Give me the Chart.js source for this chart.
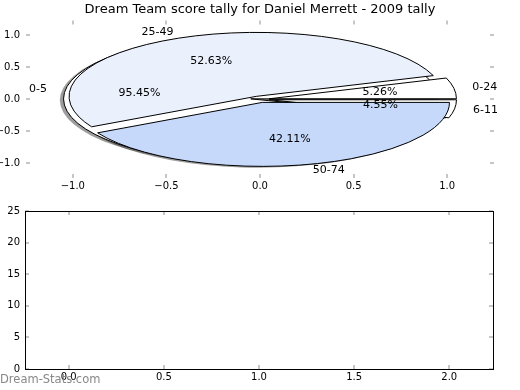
<!DOCTYPE html>
<html>
<head>
<meta charset="utf-8">
<script src="https://cdn.jsdelivr.net/npm/chart.js@4.4.0/dist/chart.umd.min.js"></script>
<style>
    body { margin: 0; background: #fff; width: 520px; height: 390px; position: relative; overflow: hidden; }
    #pieChart { position: absolute; left: 0; top: 0; }
    #emptyChart { position: absolute; left: 0; top: 200px; }
    #mark { position: absolute; left: 0; top: 372px; font: 11.5px "DejaVu Sans"; color: #888; }
</style>
</head>
<body>
<canvas id="pieChart" width="520" height="200"></canvas>
<canvas id="emptyChart" width="520" height="190"></canvas>
<div id="mark">Dream-Stats.com</div>
<script>
// ============ DATA ============

const chartTitle = "Dream Team score tally for Daniel Merrett - 2009 tally";

// first tally (drawn on top)
const bandsA = ["0-24", "25-49", "50-74"];
const pctA = [5.26, 52.63, 42.11];

// second tally (drawn underneath)
const bandsB = ["0-5", "6-11"];
const pctB = [95.45, 4.55];

const pieTicks = [-1.0, -0.5, 0.0, 0.5, 1.0];
const emptyXTicks = [0.0, 0.5, 1.0, 1.5, 2.0];
const emptyYTicks = [0, 5, 10, 15, 20, 25];

// ============ STYLE ============

const coloursA = ["#ffffff", "#eaf1fd", "#c6d9fb"];
const coloursB = ["#ffffff", "#ffffff"];
const EXPLODE = 0.05;
const FONT = "DejaVu Sans";

function fmtTick(v) {
    return v.toFixed(1).replace("-", "\u2212");
}

function wedges(values) {
    const total = values.reduce((a, b) => a + b, 0);
    let start = 0;
    return values.map(v => {
        const sweep = v / total * 2 * Math.PI;
        const mid = start + sweep / 2;
        const w = {
            from: start, to: start + sweep, mid,
            dx: EXPLODE * Math.cos(mid), dy: EXPLODE * Math.sin(mid),
            pct: v / total * 100
        };
        start += sweep;
        return w;
    });
}

// ============ PLUGINS ============

const piePlugin = {
    id: "pies",
    beforeDatasetsDraw(chart) {
        const { ctx, scales: { x, y } } = chart;
        const pies = [
            { labels: bandsB, colours: coloursB, w: wedges(pctB) },
            { labels: bandsA, colours: coloursA, w: wedges(pctA) }
        ];

        const path = (w, ox, oy) => {
            const cx = x.getPixelForValue(w.dx + ox);
            const cy = y.getPixelForValue(w.dy + oy);
            const rx = x.getPixelForValue(w.dx + ox + 1) - cx;
            const ry = cy - y.getPixelForValue(w.dy + oy + 1);
            ctx.beginPath();
            ctx.moveTo(cx, cy);
            ctx.ellipse(cx, cy, rx, ry, 0, -w.from, -w.to, true);
            ctx.closePath();
        };

        ctx.save();
        // shadows sit below every wedge
        pies.forEach(p => p.w.forEach(w => {
            path(w, -0.02, -0.02);
            ctx.fillStyle = "rgba(60,60,60,0.5)";
            ctx.fill();
        }));
        pies.forEach(p => p.w.forEach((w, i) => {
            path(w, 0, 0);
            ctx.fillStyle = p.colours[i];
            ctx.fill();
            ctx.lineWidth = 1;
            ctx.strokeStyle = "#000";
            ctx.stroke();
        }));

        ctx.font = `11px "${FONT}"`;
        ctx.fillStyle = "#000";
        ctx.textBaseline = "middle";
        pies.forEach(p => p.w.forEach((w, i) => {
            const lx = w.dx + 1.1 * Math.cos(w.mid);
            const ly = w.dy + 1.1 * Math.sin(w.mid);
            ctx.textAlign = lx > 0 ? "left" : "right";
            ctx.fillText(p.labels[i], x.getPixelForValue(lx), y.getPixelForValue(ly));
            ctx.textAlign = "center";
            ctx.fillText(w.pct.toFixed(2) + "%",
                x.getPixelForValue(w.dx + 0.6 * Math.cos(w.mid)),
                y.getPixelForValue(w.dy + 0.6 * Math.sin(w.mid)));
        }));
        ctx.restore();
    }
};

// matplotlib-style inward ticks, optional frame
function innerTicks(frame) {
    return {
        id: "innerTicks",
        afterDraw(chart) {
            const { ctx, chartArea: a, scales: { x, y } } = chart;
            ctx.save();
            ctx.strokeStyle = "#b4b4b4";
            ctx.lineWidth = 1.5;
            ctx.beginPath();
            x.ticks.forEach(t => {
                const px = Math.round(x.getPixelForValue(t.value));
                ctx.moveTo(px, a.top); ctx.lineTo(px, a.top + 4);
                ctx.moveTo(px, a.bottom); ctx.lineTo(px, a.bottom - 4);
            });
            y.ticks.forEach(t => {
                const py = Math.round(y.getPixelForValue(t.value));
                ctx.moveTo(a.left, py); ctx.lineTo(a.left + 4, py);
                ctx.moveTo(a.right, py); ctx.lineTo(a.right - 4, py);
            });
            ctx.stroke();
            if (frame) {
                ctx.strokeStyle = "#000";
                ctx.lineWidth = 1;
                ctx.strokeRect(Math.round(a.left) + 0.5, Math.round(a.top) + 0.5,
                    Math.round(a.right - a.left), Math.round(a.bottom - a.top));
            }
            ctx.restore();
        }
    };
}

function axis(min, max, values, fit, padding, fmt) {
    return {
        type: "linear", min, max,
        afterBuildTicks: s => { s.ticks = values.map(v => ({ value: v })); },
        afterFit: fit,
        grid: { display: false, drawTicks: false },
        border: { display: false },
        ticks: { font: { family: FONT, size: 10 }, color: "#000", padding, callback: fmt }
    };
}

// blank right-hand margin so the title centres over the axes
function spacer(width) {
    return {
        type: "linear", position: "right", display: true,
        afterFit: s => { s.width = width; },
        grid: { display: false, drawTicks: false },
        border: { display: false },
        ticks: { display: false }
    };
}

// ============ CHARTS ============

Chart.defaults.animation = false;

new Chart(document.getElementById("pieChart"), {
    type: "scatter",
    data: { datasets: [{ data: [] }] },
    options: {
        responsive: false,
        layout: { padding: 0 },
        scales: {
            x: axis(-1.25, 1.25, pieTicks, s => { s.height = 22; }, 2, fmtTick),
            y: axis(-1.23, 1.23, pieTicks, s => { s.width = 26; }, 6, fmtTick),
            pad: spacer(26)
        },
        plugins: {
            legend: { display: false },
            tooltip: { enabled: false },
            title: {
                display: true, text: chartTitle, color: "#000",
                font: { family: FONT, size: 13, weight: "normal" },
                padding: { top: 2, bottom: 3 }
            }
        }
    },
    plugins: [piePlugin, innerTicks(false)]
});

new Chart(document.getElementById("emptyChart"), {
    type: "scatter",
    data: { datasets: [{ data: [] }] },
    options: {
        responsive: false,
        layout: { padding: { left: 0, right: 27, top: 10, bottom: 0 } },
        scales: {
            x: axis(-0.23, 2.23, emptyXTicks, s => { s.height = 21; }, 2, v => v.toFixed(1)),
            y: axis(0, 25, emptyYTicks, s => { s.width = 25; }, 5, v => String(v))
        },
        plugins: { legend: { display: false }, tooltip: { enabled: false } }
    },
    plugins: [innerTicks(true)]
});
</script>
</body>
</html>
